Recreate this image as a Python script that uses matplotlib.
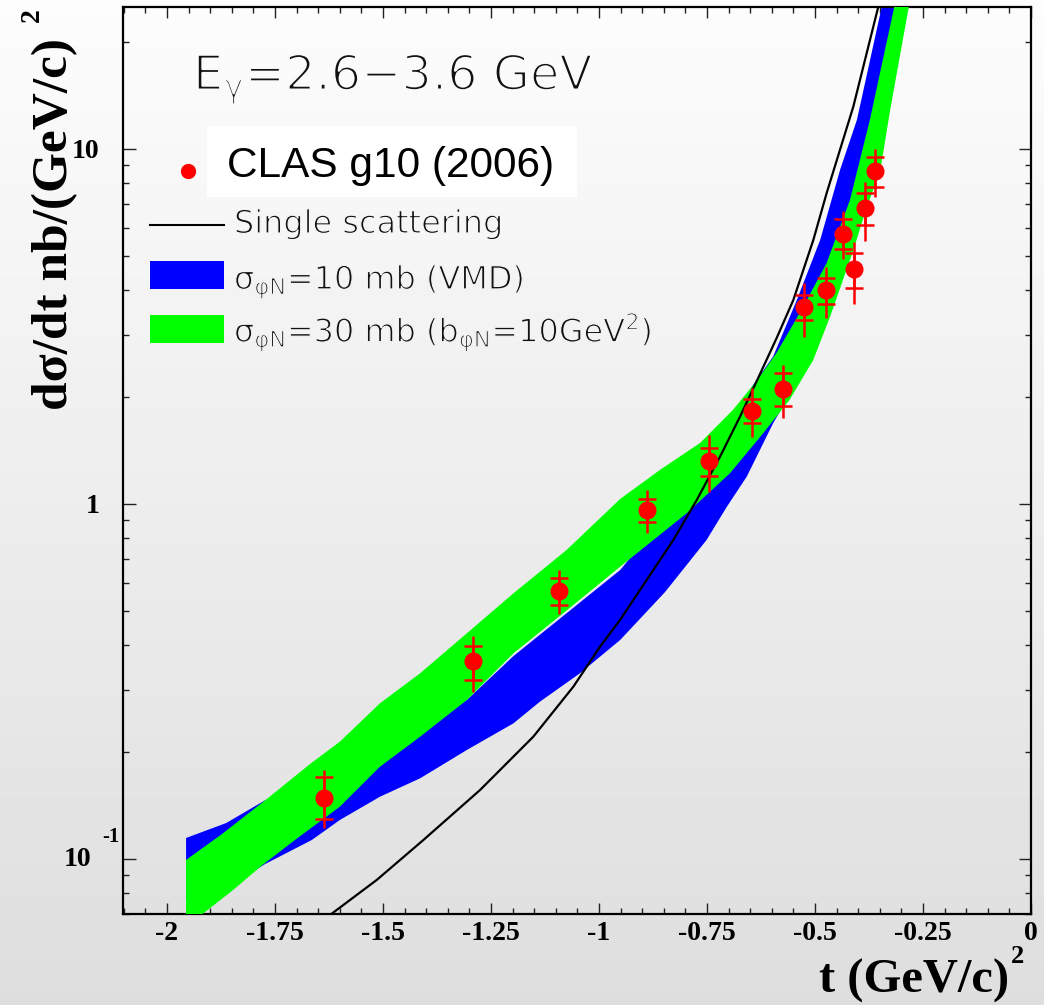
import numpy as np
import matplotlib
matplotlib.use("Agg")
import matplotlib.pyplot as plt
import matplotlib.patheffects as pe
from matplotlib.patches import Rectangle
from matplotlib.ticker import LogLocator, NullFormatter, MultipleLocator
import matplotlib.transforms as mtransforms

# CLAS g10 (2006) points: t, dsigma/dt, inner (capped) and total error ends
t_data = [-1.637, -1.292, -1.092, -0.888, -0.745, -0.647, -0.575, -0.525, -0.474, -0.436, -0.410, -0.384, -0.360]
xs_data = [0.149, 0.360, 0.569, 0.962, 1.322, 1.832, 2.112, 3.59, 4.01, 5.76, 4.58, 6.81, 8.67]
cap_hi = [0.170, 0.399, 0.620, 1.031, 1.441, 1.980, 2.334, 3.88, 4.34, 6.35, 5.10, 7.50, 9.48]
cap_lo = [0.130, 0.319, 0.519, 0.891, 1.199, 1.694, 1.888, 3.30, 3.66, 5.24, 4.05, 6.11, 7.83]
tot_hi = [0.178, 0.425, 0.652, 1.095, 1.564, 2.12, 2.46, 4.20, 4.64, 6.69, 5.48, 8.09, 9.98]
tot_lo = [0.122, 0.295, 0.490, 0.830, 1.083, 1.548, 1.743, 2.96, 3.35, 4.89, 3.65, 5.52, 7.31]

# single scattering curve
t_single = [-1.6204, -1.5146, -1.4067, -1.2755, -1.1521, -1.0595, -0.9977, -0.9514, -0.8280,
            -0.7738, -0.7199, -0.6736, -0.6273, -0.5887, -0.5502, -0.5039, -0.4729, -0.4113, -0.3495]
xs_single = [0.0699, 0.0873, 0.1131, 0.1564, 0.2211, 0.3057, 0.3963, 0.4713, 0.7917,
             1.026, 1.359, 1.762, 2.323, 2.935, 3.754, 5.54, 7.52, 13.16, 26.3]

# sigma = 10 mb (VMD) band
blue_up_t = [-1.956, -1.863, -1.772, -1.667, -1.507, -1.306, -1.198, -1.083, -0.951, -0.859,
             -0.766, -0.674, -0.597, -0.542, -0.488, -0.442, -0.403, -0.342]
blue_up_xs = [0.1146, 0.1263, 0.1466, 0.1616, 0.2001, 0.2804, 0.3730, 0.4836, 0.6516, 0.8898,
              1.313, 1.913, 2.600, 3.754, 5.542, 8.728, 12.07, 26.29]
blue_lo_t = [-1.956, -1.831, -1.773, -1.665, -1.600, -1.507, -1.414, -1.306, -1.198, -1.137, -1.044,
             -0.951, -0.847, -0.751, -0.704, -0.658, -0.597, -0.559, -0.505, -0.465, -0.412, -0.373, -0.308]
blue_lo_xs = [0.0766, 0.0873, 0.0968, 0.1131, 0.1288, 0.1498, 0.1688, 0.2028, 0.2411, 0.2773, 0.3336,
              0.4139, 0.5651, 0.7917, 0.9826, 1.194, 1.688, 2.028, 2.715, 3.636, 5.723, 9.014, 26.29]

# sigma = 30 mb band
green_up_t = [-1.956, -1.876, -1.772, -1.667, -1.600, -1.507, -1.414, -1.306, -1.198, -1.075, -0.951,
              -0.859, -0.766, -0.690, -0.635, -0.589, -0.527, -0.473, -0.419, -0.373, -0.313]
green_up_xs = [0.0994, 0.1168, 0.1466, 0.1860, 0.2140, 0.2746, 0.3336, 0.4322, 0.5603, 0.7421, 1.033,
               1.247, 1.485, 1.840, 2.221, 2.664, 3.595, 4.774, 7.183, 12.07, 26.29]
green_lo_t = [-1.956, -1.916, -1.847, -1.779, -1.704, -1.600, -1.507, -1.414, -1.306, -1.198, -1.083, -0.951,
              -0.874, -0.797, -0.697, -0.620, -0.559, -0.504, -0.465, -0.411, -0.380, -0.350, -0.326, -0.280]
green_lo_xs = [0.0644, 0.0703, 0.0818, 0.0962, 0.1131, 0.1404, 0.1820, 0.2211, 0.2804, 0.3797, 0.4921, 0.6659,
               0.7917, 0.9415, 1.220, 1.582, 1.963, 2.545, 3.371, 5.194, 6.879, 8.541, 12.88, 26.29]

x_ticks = [-2, -1.75, -1.5, -1.25, -1, -0.75, -0.5, -0.25, 0]
x_labels = ["-2", "-1.75", "-1.5", "-1.25", "-1", "-0.75", "-0.5", "-0.25", "0"]

SERIF = "Liberation Serif"


def thin(ypix, lw):
    # erode DejaVu glyphs with a stroke of the local background grey -> ROOT-like thin font
    grey = 0.99 - 0.12 * ypix / 1005
    return dict(family="DejaVu Sans", color="#111111",
                path_effects=[pe.Stroke(linewidth=lw, foreground=str(round(grey, 3)))])


fig = plt.figure(figsize=(10.44, 10.05), dpi=100)

# grey gradient background like the ROOT canvas
bg = fig.add_axes([0, 0, 1, 1], zorder=-1)
bg.imshow(np.linspace(0.99, 0.87, 256)[:, None], cmap="gray", vmin=0, vmax=1,
          aspect="auto", extent=[0, 1, 0, 1])
bg.axis("off")

ax = fig.add_axes([123 / 1044, 91 / 1005, 908 / 1044, 907 / 1005])
ax.set_facecolor("none")
ax.set_yscale("log")
ax.set_xlim(-2.102, 0)
ax.set_ylim(0.07, 25.1)

ax.fill(blue_up_t + blue_lo_t[::-1], blue_up_xs + blue_lo_xs[::-1],
        color="#0000ff", lw=0, zorder=2)
ax.fill(green_up_t + green_lo_t[::-1], green_up_xs + green_lo_xs[::-1],
        color="#00ff00", lw=0, zorder=3)
ax.plot(t_single, xs_single, color="black", lw=1.6, zorder=4)

tot_err = [np.subtract(xs_data, tot_lo), np.subtract(tot_hi, xs_data)]
cap_err = [np.subtract(xs_data, cap_lo), np.subtract(cap_hi, xs_data)]
ax.errorbar(t_data, xs_data, yerr=tot_err, fmt="none", ecolor="#ff0000",
            elinewidth=1.8, capsize=0, zorder=5)
ax.errorbar(t_data, xs_data, yerr=cap_err, fmt="none", ecolor="#ff0000",
            elinewidth=1.8, capsize=6.8, capthick=1.8, zorder=5)
ax.plot(t_data, xs_data, "o", color="#ff0000", ms=13, mec="none", zorder=6)

# axes / ticks
ax.set_xticks(x_ticks, x_labels, fontfamily=SERIF, fontweight="bold", fontsize=20)
ax.xaxis.set_minor_locator(MultipleLocator(0.05))
ax.set_yticks([0.1, 1, 10], ["", "1", "10"], fontfamily=SERIF, fontweight="bold", fontsize=20)
ax.yaxis.set_minor_locator(LogLocator(base=10, subs=np.arange(2, 10)))
ax.yaxis.set_minor_formatter(NullFormatter())
ax.tick_params(which="both", direction="in", top=True, right=True, width=1.0, color="#222222")
ax.tick_params(axis="x", which="major", length=8, pad=5)
ax.tick_params(axis="x", which="minor", length=4)
ax.tick_params(axis="y", which="major", length=9, pad=17)
ax.tick_params(axis="y", which="minor", length=4.5)
for s in ax.spines.values():
    s.set_linewidth(1.6)

# 10^-1 label done by hand, ROOT style
blend = mtransforms.blended_transform_factory(ax.transAxes, ax.transData)
ax.text(-0.0352, 0.1, "10", transform=blend, ha="right", va="center",
        fontfamily=SERIF, fontweight="bold", fontsize=20)
ax.text(-0.0231, 0.1, "-1",
        transform=blend + mtransforms.ScaledTranslation(0, 16 / 72, fig.dpi_scale_trans),
        ha="left", va="center", fontfamily=SERIF, fontweight="bold", fontsize=15)

# axis titles
fig.text(1009 / 1044, 12 / 1005, "t (GeV/c)", ha="right", va="baseline",
         fontfamily=SERIF, fontweight="bold", fontsize=35)
fig.text(1011 / 1044, 42 / 1005, "2", ha="left", va="baseline",
         fontfamily=SERIF, fontweight="bold", fontsize=19)
fig.text(55 / 1044, 1 - 38 / 1005, "d\u03c3/dt nb/(GeV/c)", rotation=90, ha="center", va="top",
         fontfamily=SERIF, fontweight="bold", fontsize=37)
fig.text(32 / 1044, 1 - 8 / 1005, "2", rotation=90, ha="center", va="top",
         fontfamily=SERIF, fontweight="bold", fontsize=20)

# title and legend
ax.text(0.0771, 0.9085, "E$_{\\mathdefault{\\gamma}}$=2.6\u22123.6 GeV", transform=ax.transAxes,
        ha="left", va="baseline", fontsize=34.5, **thin(75, 1.6))

ax.add_patch(Rectangle((0.0925, 0.7905), 0.4075, 0.0783, transform=ax.transAxes,
                       fc="white", ec="none", zorder=7))
ax.text(0.1145, 0.8126, "CLAS g10 (2006)", transform=ax.transAxes, ha="left", va="baseline",
        fontfamily="Liberation Sans", fontsize=30.5, zorder=8)
ax.plot([0.0711], [0.8195], "o", color="#ff0000", ms=11, mec="none",
        transform=ax.transAxes, zorder=8)

ax.plot([0.0297, 0.1112], [0.7597, 0.7597], color="black", lw=1.5,
        transform=ax.transAxes, zorder=8)
ax.text(0.1222, 0.7508, "Single scattering", transform=ax.transAxes,
        ha="left", va="baseline", fontsize=23, **thin(222, 0.9))

ax.add_patch(Rectangle((0.0297, 0.6891), 0.0815, 0.0309, transform=ax.transAxes,
                       fc="#0000ff", ec="none", zorder=8))
ax.text(0.1222, 0.6891, "$\\mathdefault{\\sigma_{\\varphi N}}$=10 mb (VMD)",
        transform=ax.transAxes, ha="left", va="baseline", fontsize=23, **thin(277, 0.9))

ax.add_patch(Rectangle((0.0297, 0.6295), 0.0815, 0.0309, transform=ax.transAxes,
                       fc="#00ff00", ec="none", zorder=8))
ax.text(0.1222, 0.6307,
        "$\\mathdefault{\\sigma_{\\varphi N}}$=30 mb (b$_{\\mathdefault{\\varphi N}}$=10GeV$^{\\mathdefault{2}}$)",
        transform=ax.transAxes, ha="left", va="baseline", fontsize=23, **thin(330, 0.9))

fig.savefig("out.png", dpi=100)
